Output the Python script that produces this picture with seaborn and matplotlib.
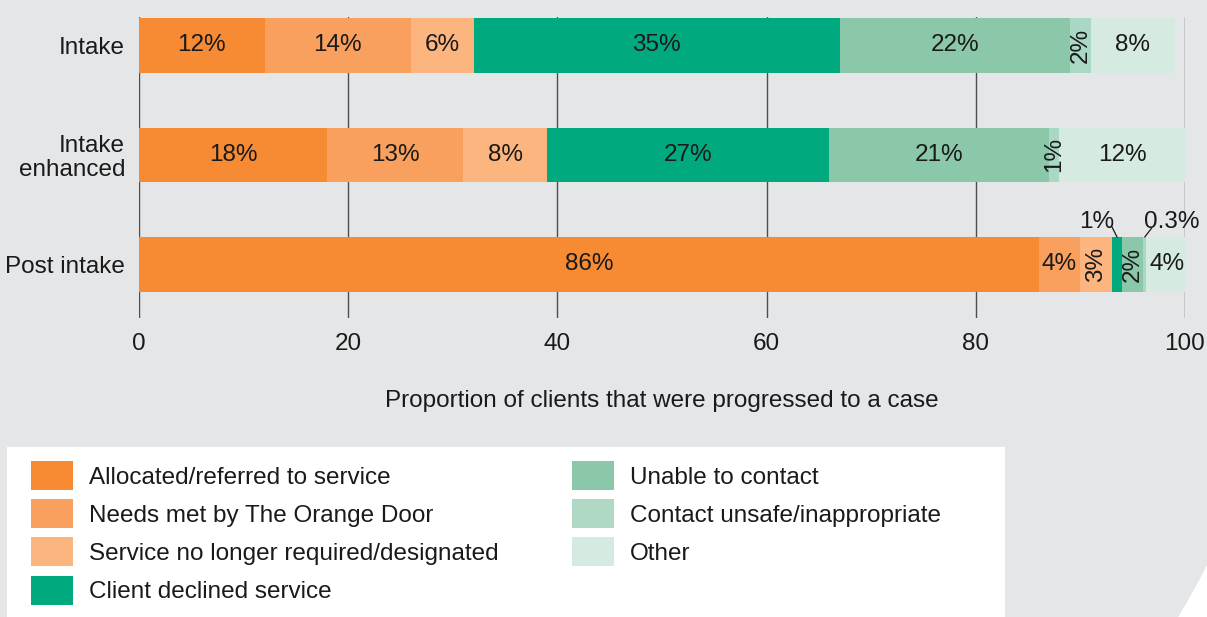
import numpy as np
import pandas as pd
import matplotlib
matplotlib.use("Agg")
import matplotlib.pyplot as plt
from matplotlib.patches import Patch, Rectangle, Polygon
import seaborn as sns

# Case progression outcomes by stage (% of clients)
stages = ["Intake", "Intake\nenhanced", "Post intake"]
outcomes = [
    "Allocated/referred to service",
    "Needs met by The Orange Door",
    "Service no longer required/designated",
    "Client declined service",
    "Unable to contact",
    "Contact unsafe/inappropriate",
    "Other",
]
allocated = [12, 18, 86]
needs_met = [14, 13, 4]
no_longer_required = [6, 8, 3]
declined = [35, 27, 1]
unable_to_contact = [22, 21, 2]
contact_unsafe = [2, 1, 0.3]
other = [8, 12, 4]

x_ticks = [0, 20, 40, 60, 80, 100]
x_label = "Proportion of clients that were progressed to a case"

colors = ["#f68b33", "#f9a05e", "#fdb57f", "#00aa7e", "#8bc8aa", "#a9d9c4", "#d5eae0"]
legend_colors = ["#f68b33", "#f9a05e", "#fdb57f", "#00aa7e", "#8bc8aa", "#b0d9c5", "#d5eae0"]

series = [allocated, needs_met, no_longer_required, declined,
          unable_to_contact, contact_unsafe, other]
values = pd.DataFrame(np.array(series).T, index=stages, columns=outcomes)
cumulative = values.cumsum(axis=1)

BG = "#e5e6e8"
TXT = "#1a1a1a"
FS = 17.5
FS_PX = FS / 72 * 100

sns.set_theme(style="white")
plt.rcParams["font.family"] = ["Liberation Sans", "DejaVu Sans"]

W, H = 1207, 617
fig = plt.figure(figsize=(W / 100, H / 100), dpi=100, facecolor=BG)

# white legend panel and the white corner outside the rounded page edge
fig.add_artist(Rectangle((7 / W, 0), (1005 - 7) / W, 1 - 447 / H,
                         transform=fig.transFigure, facecolor="white",
                         edgecolor="none", zorder=0))
cx, cy = 580.0, 250.0
r = np.hypot(1207 - cx, 565 - cy)
a0 = np.arctan2(565 - cy, 1207 - cx)
a1 = np.arctan2(617 - cy, np.sqrt(r ** 2 - (617 - cy) ** 2))
ang = np.linspace(a0, a1, 60)
pts = [((cx + r * np.cos(a)) / W, 1 - (cy + r * np.sin(a)) / H) for a in ang]
pts.append((1.0, 0.0))
fig.add_artist(Polygon(pts, closed=True, transform=fig.transFigure,
                       facecolor="white", edgecolor="none", zorder=0))

ax = fig.add_axes([139 / W, 1 - 318 / H, (1185 - 139) / W, (318 - 17) / H])
ax.set_facecolor("none")

# stacked bars: draw cumulative totals from the widest down
long = cumulative.reset_index().rename(columns={"index": "stage"})
for name, col in reversed(list(zip(outcomes, colors))):
    sns.barplot(data=long, x=name, y="stage", orient="h", color=col,
                saturation=1, width=0.5, linewidth=0, edgecolor="none",
                ax=ax, zorder=2)

ax.set_xlim(0, 100)
ax.set_ylim(2.49, -0.26)
ax.set_xticks(x_ticks)
ax.set_xticklabels([str(t) for t in x_ticks])
ax.grid(axis="x", color="#4d4d4d", linewidth=1.0, zorder=0)
ax.grid(axis="y", visible=False)
ax.set_axisbelow(True)
for s in ax.spines.values():
    s.set_visible(False)
ax.tick_params(axis="x", length=0, pad=11, labelsize=FS, labelcolor=TXT)
ax.tick_params(axis="y", length=0, pad=10, labelsize=FS, labelcolor=TXT)
ax.set_ylabel("")
ax.set_xlabel(x_label, fontsize=FS, color=TXT, labelpad=25)
for lbl in ax.get_yticklabels():
    lbl.set_multialignment("right")
    lbl.set_linespacing(1.1)

# value labels
rotated = {(0, 5), (1, 5), (2, 2), (2, 4)}
outside = {(2, 3): ((-20, 15), (-5, 10)), (2, 5): ((27, 15), (7, 9))}
for i, stage in enumerate(stages):
    for j, name in enumerate(outcomes):
        v = values.loc[stage, name]
        centre = cumulative.loc[stage, name] - v / 2
        text = f"{v:g}%"
        if (i, j) in outside:
            text_off, line_off = outside[(i, j)]
            ax.annotate(text, xy=(centre, i - 0.25), xytext=text_off,
                        textcoords="offset pixels", ha="center", va="center",
                        fontsize=FS, color=TXT, annotation_clip=False)
            ax.annotate("", xy=(centre, i - 0.25), xytext=line_off,
                        textcoords="offset pixels", annotation_clip=False,
                        arrowprops=dict(arrowstyle="-", color=TXT, lw=0.9,
                                        shrinkA=0, shrinkB=0))
        else:
            ax.text(centre, i, text, ha="center", va="center", fontsize=FS,
                    color=TXT, rotation=90 if (i, j) in rotated else 0,
                    zorder=5)

# legend in two columns
handles = [Patch(facecolor=c, edgecolor="none", label=l)
           for c, l in zip(legend_colors, outcomes)]
hh = (29 / FS_PX - 0.245) / 0.65
common = dict(loc="upper left", frameon=False, fontsize=FS, borderpad=0,
              borderaxespad=0, handlelength=42 / FS_PX, handleheight=hh,
              handletextpad=16 / FS_PX, labelspacing=0.38, labelcolor=TXT)
fig.legend(handles=handles[:4], bbox_to_anchor=(31 / W, 1 - 461 / H), **common)
fig.legend(handles=handles[4:], bbox_to_anchor=(572 / W, 1 - 461 / H), **common)

fig.savefig("out.png", dpi=100, facecolor=BG)
